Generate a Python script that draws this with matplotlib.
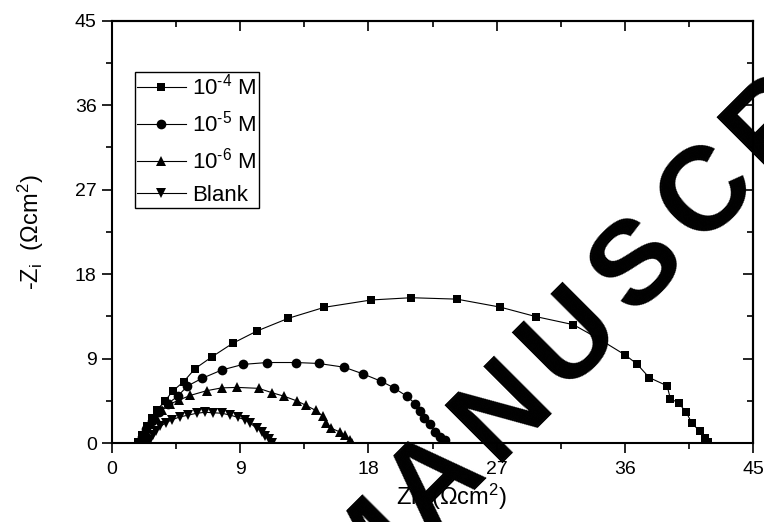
import matplotlib
matplotlib.use("Agg")
import numpy as np
import matplotlib.pyplot as plt

plt.rcParams['font.family'] = ['Liberation Sans', 'DejaVu Sans']
plt.rcParams['mathtext.default'] = 'regular'

# Nyquist data: real part Zr and negative imaginary part -Zi (ohm cm^2)
zr_1e4 = [1.85, 2.1, 2.45, 2.8, 3.15, 3.7, 4.25, 5.03, 5.83, 7.03, 8.48, 10.17, 12.38,
          14.91, 18.2, 21.0, 24.2, 27.25, 29.78, 32.39, 34.2, 36.03, 36.85, 37.72,
          38.97, 39.2, 39.77, 40.33, 40.7, 41.25, 41.65, 41.85]
zi_1e4 = [0.1, 0.9, 1.8, 2.65, 3.55, 4.45, 5.55, 6.56, 7.95, 9.22, 10.65, 11.95, 13.31,
          14.48, 15.26, 15.5, 15.35, 14.5, 13.48, 12.63, 11.1, 9.4, 8.45, 6.99,
          6.12, 4.75, 4.3, 3.28, 2.13, 1.33, 0.6, 0.1]

zr_1e5 = [1.9, 2.1, 2.4, 2.8, 3.3, 3.9, 4.6, 5.3, 6.3, 7.7, 9.2, 10.9, 12.9, 14.5,
          16.3, 17.6, 18.9, 19.8, 20.7, 21.3, 21.6, 21.9, 22.3, 22.7, 23.0, 23.4]
zi_1e5 = [0.0, 0.7, 1.5, 2.4, 3.3, 4.2, 5.0, 6.1, 6.9, 7.8, 8.4, 8.6, 8.6, 8.5,
          8.1, 7.4, 6.6, 5.9, 5.0, 4.2, 3.4, 2.7, 2.0, 1.2, 0.7, 0.3]

zr_1e6 = [1.9, 2.1, 2.4, 2.7, 3.1, 3.5, 4.1, 4.7, 5.5, 6.65, 7.7, 8.8, 10.3, 11.2,
          12.1, 13.0, 13.6, 14.3, 14.8, 15.05, 15.4, 16.0, 16.35, 16.7, 16.85]
zi_1e6 = [0.0, 0.6, 1.3, 2.0, 2.8, 3.5, 4.2, 4.6, 5.1, 5.6, 5.9, 5.95, 5.85, 5.4,
          5.0, 4.5, 4.05, 3.5, 2.9, 2.2, 1.6, 1.2, 0.85, 0.4, 0.0]

zr_blank = [2.5, 2.65, 2.85, 3.1, 3.4, 3.8, 4.2, 4.75, 5.35, 5.95, 6.55, 7.1, 7.7,
            8.3, 8.85, 9.35, 9.7, 10.15, 10.5, 10.75, 11.0, 11.2]
zi_blank = [0.0, 0.4, 0.9, 1.35, 1.8, 2.2, 2.5, 2.8, 3.0, 3.2, 3.3, 3.25, 3.2,
            3.0, 2.75, 2.5, 2.15, 1.6, 1.25, 0.8, 0.45, 0.05]

labels = ['10$^{\u20104}$ M', '10$^{\u20105}$ M', '10$^{\u20106}$ M', 'Blank']
major_ticks = [0, 9, 18, 27, 36, 45]
minor_ticks = [4.5, 13.5, 22.5, 31.5, 40.5]

W, H = 764, 522
fig = plt.figure(figsize=(W / 100, H / 100), dpi=100)
ax = fig.add_axes([0.1466, 0.1508, 0.839, 0.8096])

series = [(zr_1e4, zi_1e4, 's', 6.0),
          (zr_1e5, zi_1e5, 'o', 7.0),
          (zr_1e6, zi_1e6, '^', 7.5),
          (zr_blank, zi_blank, 'v', 7.5)]
for (x, y, m, ms), lab in zip(series, labels):
    ax.plot(x, y, color='black', lw=0.8, marker=m, ms=ms,
            markeredgewidth=0, label=lab)

ax.set_xlim(0, 45)
ax.set_ylim(0, 45)
ax.set_xticks(major_ticks)
ax.set_yticks(major_ticks)
ax.set_xticks(minor_ticks, minor=True)
ax.set_yticks(minor_ticks, minor=True)
ax.tick_params(which='major', direction='out', length=7, width=1.2,
               labelsize=14, colors='black')
ax.tick_params(axis='x', which='major', pad=6)
ax.tick_params(axis='y', which='major', pad=4)
ax.tick_params(which='minor', direction='out', length=4, width=1.2)
for s in ax.spines.values():
    s.set_linewidth(1.5)

# inward ticks on the top and right frame
top = ax.secondary_xaxis('top')
top.set_xticks(major_ticks)
top.set_xticks(minor_ticks, minor=True)
top.tick_params(which='major', direction='in', length=7, width=1.2, labeltop=False)
top.tick_params(which='minor', direction='in', length=4, width=1.2)
top.spines['top'].set_linewidth(1.5)
right = ax.secondary_yaxis('right')
right.set_yticks(major_ticks)
right.set_yticks(minor_ticks, minor=True)
right.tick_params(which='major', direction='in', length=7, width=1.2, labelright=False)
right.tick_params(which='minor', direction='in', length=4, width=1.2)
right.spines['right'].set_linewidth(1.5)

ax.set_xlabel('Zr  (\u03a9cm$^{2}$)', fontsize=17)
ax.set_ylabel('-Z$_{i}$  (\u03a9cm$^{2}$)', fontsize=17)
ax.xaxis.set_label_coords(0.53, -0.09)
ax.yaxis.set_label_coords(-0.103, 0.5)

leg = ax.legend(loc='upper left', bbox_to_anchor=(0.036, 0.878),
                borderaxespad=0, fontsize=16, frameon=True, fancybox=False,
                edgecolor='black', framealpha=1, borderpad=0.08,
                handlelength=2.2, handletextpad=0.3, labelspacing=0.5)
leg.get_frame().set_linewidth(1.0)

# diagonal watermark, letters set along a rising line with wide tracking
word = 'MANUSCRIPT'
angle = 45.0
fs = 86
em = fs * 100 / 72
step = np.array([68.0, -72.0])               # pixel step between letter centres
first = np.array([495.0, 402.0]) - 2 * step  # centre of the first letter
down = np.array([np.sin(np.radians(angle)), np.cos(np.radians(angle))])
for i, ch in enumerate(word):
    cx, cy = first + i * step + 0.358 * em * down
    fig.text(cx / W, 1 - cy / H, ch, fontsize=fs, fontweight='bold',
             color='black', rotation=angle, rotation_mode='anchor',
             ha='center', va='baseline', zorder=10)

fig.savefig('out.png', dpi=100)
